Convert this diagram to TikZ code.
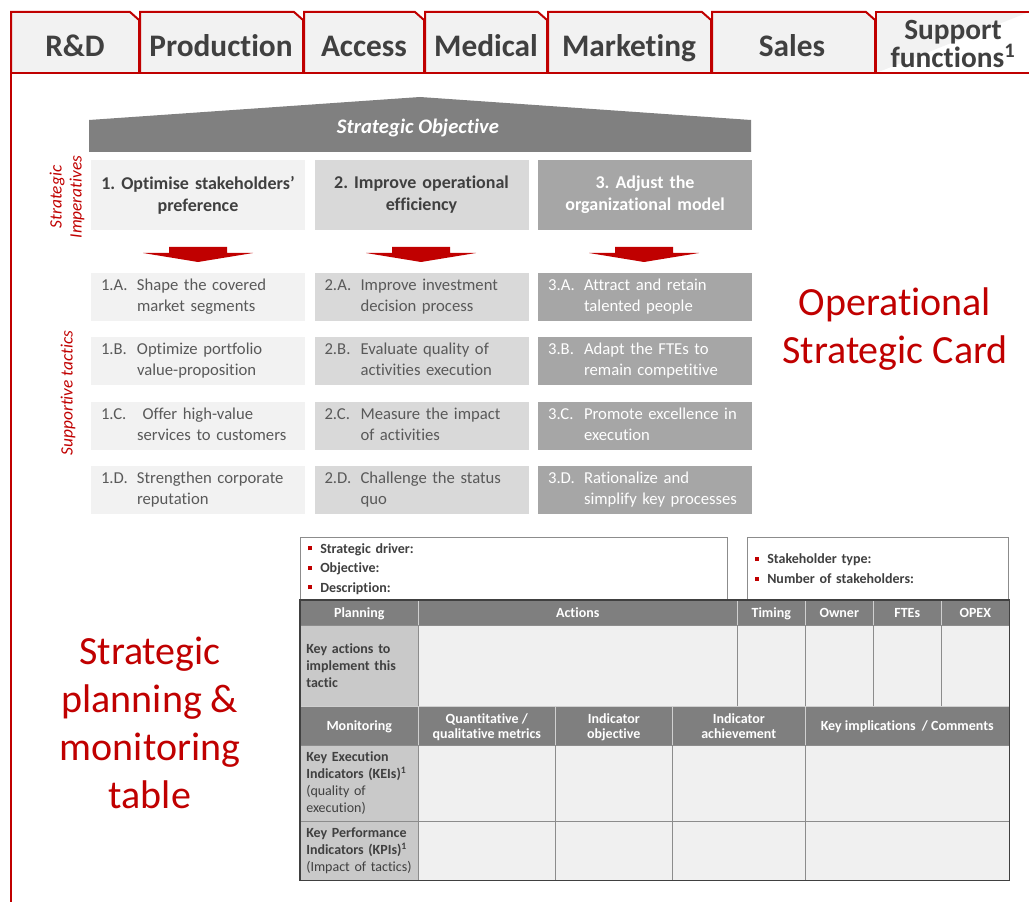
\documentclass[tikz,border=0pt]{standalone}
\usepackage{fontspec}
\setmainfont{Carlito}[Ligatures=NoCommon]
\usepackage{tikz}
\usetikzlibrary{positioning}
\frenchspacing

\definecolor{cardred}{HTML}{C00000}
\definecolor{darktext}{HTML}{404040}
\definecolor{midtext}{HTML}{595959}
\definecolor{tabfill}{HTML}{F2F2F2}
\definecolor{roofgray}{HTML}{808080}
\definecolor{colone}{HTML}{F2F2F2}
\definecolor{coltwo}{HTML}{D9D9D9}
\definecolor{colthree}{HTML}{A6A6A6}
\definecolor{headgray}{HTML}{7F7F7F}
\definecolor{headline}{HTML}{D0D0D0}
\definecolor{rowgray}{HTML}{C9C9C9}
\definecolor{cellgray}{HTML}{F0F0F0}
\definecolor{gridgray}{HTML}{8C8C8C}

\newcommand{\tabshape}[2]{\filldraw[tab] (#1,73) -- (#1,12) -- ({#2-9},12) -- (#2,20) -- (#2,73);}
\newcommand{\redarrow}[1]{\fill[cardred] ({#1-29},247) -- ({#1+29},247) -- ({#1+29},253) -- ({#1+55},253) -- (#1,262) -- ({#1-55},253) -- ({#1-29},253) -- cycle;}
\newcommand{\tactic}[3]{\begin{tabular}{@{}p{27pt}@{}l@{}}#1 & #2\\ & #3\end{tabular}}
\newcommand{\bul}{\textcolor{cardred}{\rule[2pt]{3pt}{3pt}}\hspace{6pt}}

\begin{document}
\begin{tikzpicture}[x=0.75pt, y=-0.75pt]
    \tikzstyle{tab} = [draw=cardred, line width=1.5pt, fill=tabfill]
    \tikzstyle{tabtext} = [text=darktext, text depth=0pt, font=\bfseries\fontsize{23.5}{21}\selectfont, align=center]
    \tikzstyle{frame} = [draw=cardred, line width=1.8pt]
    \tikzstyle{imp} = [rectangle, minimum width=160.5pt, minimum height=52.5pt, inner xsep=3pt, text width=154.5pt, align=center, text=darktext, font=\bfseries\fontsize{13.5}{16.5}\selectfont]
    \tikzstyle{tac} = [rectangle, minimum width=160.5pt, minimum height=36pt, inner xsep=7.5pt, inner ysep=0pt, text width=145.5pt, align=left, text=midtext, font=\fontsize{12.5}{15.75}\selectfont]
    \tikzstyle{sidetext} = [rotate=90, text=cardred, align=center, font=\itshape\fontsize{13}{15}\selectfont]
    \tikzstyle{bigred} = [text=cardred, align=center, font=\fontsize{30}{35.5}\selectfont]
    \tikzstyle{infobox} = [rectangle, draw=gridgray, fill=white, anchor=north west, inner xsep=6pt, inner ysep=0pt, align=left, text=darktext, font=\bfseries\fontsize{10.5}{14.6}\selectfont]
    \tikzstyle{headcell} = [rectangle, draw=headline, fill=headgray, anchor=north west, inner sep=0pt, text depth=0pt, align=center, text=white, font=\bfseries\fontsize{10.5}{11.5}\selectfont]
    \tikzstyle{rowhead} = [rectangle, draw=gridgray, fill=rowgray, anchor=north west, inner xsep=4.5pt, inner ysep=0pt, text width=79.5pt, align=left, text=darktext, font=\fontsize{10.5}{12.75}\selectfont]
    \tikzstyle{emptycell} = [rectangle, draw=gridgray, fill=cellgray, anchor=north west, inner sep=0pt]

    \useasboundingbox (0,0) rectangle (1029,902);

    \tabshape{11}{139}
    \tabshape{140}{303}
    \tabshape{304}{424}
    \tabshape{425}{547}
    \tabshape{548}{711}
    \tabshape{712}{875}
    \filldraw[tab] (876,73) -- (876,12) -- (1029,12);
    \draw[frame] (11,902) -- (11,73) -- (1029,73);

    \node[tabtext] (rnd) at (75,46) {R\&D};
    \node[tabtext] (production) at (221,46) {Production};
    \node[tabtext] (access) at (364,46) {Access};
    \node[tabtext] (medical) at (486,46) {Medical};
    \node[tabtext] (marketing) at (629,46) {Marketing};
    \node[tabtext] (sales) at (792,46) {Sales};
    \node[tabtext, font=\bfseries\fontsize{22}{21}\selectfont] (support) at (953,44) {Support\\functions\textsuperscript{1}};

    \fill[roofgray] (89,152) -- (89,120) -- (420,97) -- (751,120) -- (751,152) -- cycle;
    \node[text=white, font=\bfseries\itshape\fontsize{15.5}{17}\selectfont] (objective) at (418,128) {Strategic Objective};

    \node[imp, fill=colone] (impone) at (198,195) {1. Optimise stakeholders'\\preference};
    \node[imp, fill=coltwo, right=6.75pt of impone] (imptwo) {2. Improve operational\\efficiency};
    \node[imp, fill=colthree, text=white, right=6.75pt of imptwo] (impthree) {3. Adjust the\\organizational model};

    \redarrow{198}
    \redarrow{421}
    \redarrow{644}

    \node[tac, fill=colone, below=31.5pt of impone] (taconea) {\tactic{1.A.}{Shape the covered}{market segments}};
    \node[tac, fill=colone, below=12pt of taconea] (taconeb) {\tactic{1.B.}{Optimize portfolio}{value-proposition}};
    \node[tac, fill=colone, below=12pt of taconeb] (taconec) {\tactic{1.C.}{\ Offer high-value}{services to customers}};
    \node[tac, fill=colone, below=12pt of taconec] (taconed) {\tactic{1.D.}{Strengthen corporate}{reputation}};

    \node[tac, fill=coltwo, below=31.5pt of imptwo] (tactwoa) {\tactic{2.A.}{Improve investment}{decision process}};
    \node[tac, fill=coltwo, below=12pt of tactwoa] (tactwob) {\tactic{2.B.}{Evaluate quality of}{activities execution}};
    \node[tac, fill=coltwo, below=12pt of tactwob] (tactwoc) {\tactic{2.C.}{Measure the impact}{of activities}};
    \node[tac, fill=coltwo, below=12pt of tactwoc] (tactwod) {\tactic{2.D.}{Challenge the status}{quo}};

    \node[tac, fill=colthree, text=white, below=31.5pt of impthree] (tacthreea) {\tactic{3.A.}{Attract and retain}{talented people}};
    \node[tac, fill=colthree, text=white, below=12pt of tacthreea] (tacthreeb) {\tactic{3.B.}{Adapt the FTEs to}{remain competitive}};
    \node[tac, fill=colthree, text=white, below=12pt of tacthreeb] (tacthreec) {\tactic{3.C.}{Promote excellence in}{execution}};
    \node[tac, fill=colthree, text=white, below=12pt of tacthreec] (tacthreed) {\tactic{3.D.}{Rationalize and}{simplify key processes}};

    \node[sidetext] (imperatives) at (67,197) {Strategic\\Imperatives};
    \node[sidetext] (tactics) at (68,393) {Supportive tactics};

    \node[bigred] (card) at (895,329) {Operational\\Strategic Card};
    \node[bigred, font=\fontsize{30}{36}\selectfont] (plantable) at (150,723) {Strategic\\planning \&\\monitoring\\table};

    \node[infobox, minimum width=320.25pt, minimum height=47.25pt, text width=308.25pt] (driver) at (300,537) {\bul Strategic driver:\\\bul Objective:\\\bul Description:};
    \node[infobox, minimum width=195.75pt, minimum height=47.25pt, text width=183.75pt] (stakeholder) at (747,537) {\bul Stakeholder type:\\\bul Number of stakeholders:};

    \node[headcell, minimum width=88.5pt, minimum height=18.75pt] (planning) at (300,600) {Planning};
    \node[headcell, minimum width=239.25pt, minimum height=18.75pt] (actions) at (418,600) {Actions};
    \node[headcell, minimum width=51pt, minimum height=18.75pt] (timing) at (737,600) {Timing};
    \node[headcell, minimum width=51pt, minimum height=18.75pt] (owner) at (805,600) {Owner};
    \node[headcell, minimum width=51pt, minimum height=18.75pt] (ftes) at (873,600) {FTEs};
    \node[headcell, minimum width=51pt, minimum height=18.75pt] (opex) at (941,600) {OPEX};

    \node[rowhead, minimum height=60.75pt, font=\bfseries\fontsize{10.5}{12.75}\selectfont] (keyactions) at (300,625) {Key actions to\\implement this\\tactic};
    \node[emptycell, minimum width=239.25pt, minimum height=60.75pt] (actionscell) at (418,625) {};
    \node[emptycell, minimum width=51pt, minimum height=60.75pt] (timingcell) at (737,625) {};
    \node[emptycell, minimum width=51pt, minimum height=60.75pt] (ownercell) at (805,625) {};
    \node[emptycell, minimum width=51pt, minimum height=60.75pt] (ftescell) at (873,625) {};
    \node[emptycell, minimum width=51pt, minimum height=60.75pt] (opexcell) at (941,625) {};

    \node[headcell, minimum width=88.5pt, minimum height=29.25pt] (monitoring) at (300,706) {Monitoring};
    \node[headcell, minimum width=102.75pt, minimum height=29.25pt] (metrics) at (418,706) {Quantitative /\\qualitative metrics};
    \node[headcell, minimum width=87.75pt, minimum height=29.25pt] (indobjective) at (555,706) {Indicator\\objective};
    \node[headcell, minimum width=99.75pt, minimum height=29.25pt] (indachieve) at (672,706) {Indicator\\achievement};
    \node[headcell, minimum width=153pt, minimum height=29.25pt] (comments) at (805,706) {Key implications~ / Comments};

    \node[rowhead, minimum height=57pt] (kei) at (300,745) {\textbf{Key Execution}\\\textbf{Indicators (KEIs)\textsuperscript{1}}\\(quality of\\execution)};
    \node[emptycell, minimum width=102.75pt, minimum height=57pt] (keimetrics) at (418,745) {};
    \node[emptycell, minimum width=87.75pt, minimum height=57pt] (keiobjective) at (555,745) {};
    \node[emptycell, minimum width=99.75pt, minimum height=57pt] (keiachieve) at (672,745) {};
    \node[emptycell, minimum width=153pt, minimum height=57pt] (keicomments) at (805,745) {};

    \node[rowhead, minimum height=44.25pt] (kpi) at (300,821) {\textbf{Key Performance}\\\textbf{Indicators (KPIs)\textsuperscript{1}}\\(Impact of tactics)};
    \node[emptycell, minimum width=102.75pt, minimum height=44.25pt] (kpimetrics) at (418,821) {};
    \node[emptycell, minimum width=87.75pt, minimum height=44.25pt] (kpiobjective) at (555,821) {};
    \node[emptycell, minimum width=99.75pt, minimum height=44.25pt] (kpiachieve) at (672,821) {};
    \node[emptycell, minimum width=153pt, minimum height=44.25pt] (kpicomments) at (805,821) {};

    \draw[darktext, line width=1.1pt] (planning.north west) rectangle (kpicomments.south east);
\end{tikzpicture}
\end{document}
